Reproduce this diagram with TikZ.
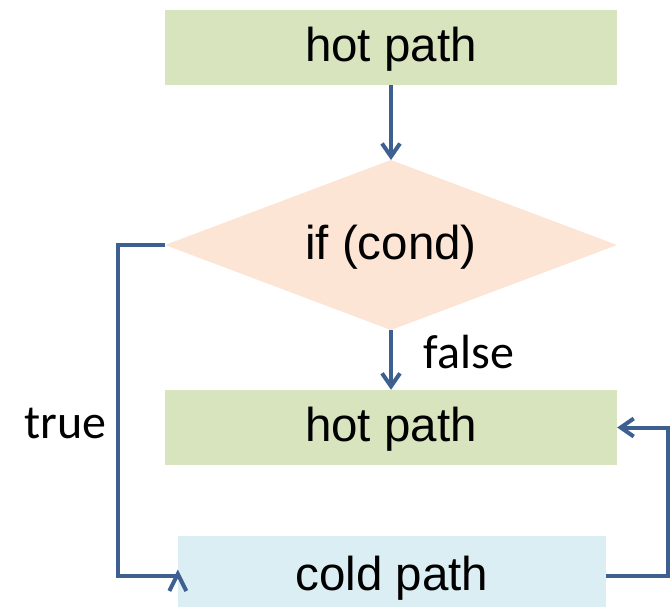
\documentclass[tikz,border=0pt]{standalone}
\usepackage{fontspec}
\setmainfont{Liberation Sans}
\newfontfamily\labelfont{Carlito}
\usetikzlibrary{arrows.meta,calc}

\definecolor{hotgreen}{RGB}{215,228,189}
\definecolor{condpeach}{RGB}{253,229,214}
\definecolor{coldblue}{RGB}{218,238,243}
\definecolor{flowblue}{RGB}{62,96,145}

\begin{document}
\begin{tikzpicture}[x=1pt, y=-1pt,
    >={Straight Barb[length=13pt,width=18pt]},
    box/.style={rectangle, minimum width=452pt, minimum height=75pt, inner sep=0pt,
        text height=36pt, text depth=8pt, font=\fontsize{47.5}{50}\selectfont},
    flow/.style={draw=flowblue, line width=4pt}]
\useasboundingbox (0,0) rectangle (672,606);

% the condition diamond
\coordinate (condN) at (391,160);
\coordinate (condS) at (391,330);
\coordinate (condW) at (165,245);
\coordinate (condE) at (617,245);
\fill[condpeach](condN)--(condE)--(condS)--(condW)--cycle;

\node[box, fill=hotgreen] (hot1) at (391,47.5) {hot path};
\node[box, minimum width=0pt, minimum height=0pt] (cond) at (391,245) {if (cond)};
\node[box, fill=hotgreen] (hot2) at (391,427.5) {hot path};
\node[box, fill=coldblue, minimum width=428pt, minimum height=80pt] (cold) at (392,576) {cold path};

\draw[flow,->](hot1.south)--(condN);
\draw[flow,->](condS)--(hot2.north);
\draw[flow](condW)--++(-47,0)|-(cold.west);
\draw[flow]($(cold.west)+(-8.5,15)$)--($(cold.west)+(0,-2)$)--($(cold.west)+(8.5,15)$);
\draw[flow,->](cold.east)--++(62,0)|-(hot2.east);

\node at (420,352)[anchor=west, font=\labelfont\fontsize{48}{50}\selectfont]{false};
\node at (110,423)[anchor=east, font=\labelfont\fontsize{48}{50}\selectfont]{true};
\end{tikzpicture}
\end{document}
